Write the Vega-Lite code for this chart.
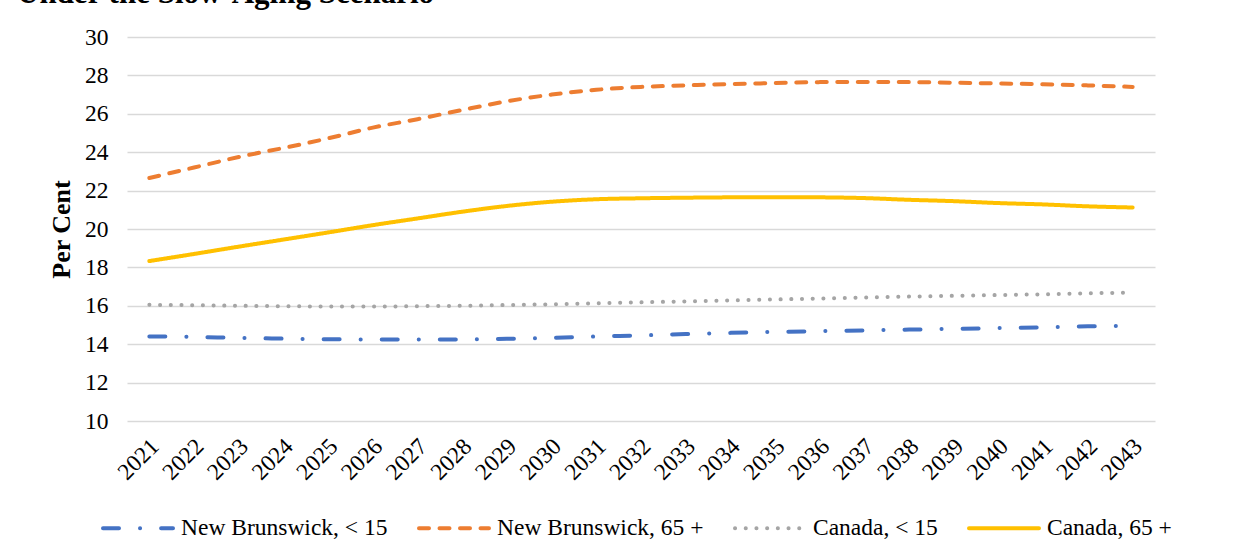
{
  "$schema": "https://vega.github.io/schema/vega-lite/v6.json",
  "width": 1028,
  "height": 384,
  "autosize": {"type": "none"},
  "padding": {"left": 127, "top": 37, "right": 102, "bottom": 138},
  "background": "white",
  "title": {
    "text": "Under the Slow-Aging Scenario",
    "anchor": "start",
    "frame": "group",
    "font": "Liberation Serif",
    "fontSize": 31,
    "fontWeight": "bold",
    "color": "#000000",
    "baseline": "alphabetic",
    "offset": -9,
    "dx": -110
  },
  "data": {
    "values": [
      {"year": "2021", "New Brunswick, < 15": 14.40, "New Brunswick, 65 +": 22.66, "Canada, < 15": 16.05, "Canada, 65 +": 18.33},
      {"year": "2022", "New Brunswick, < 15": 14.38, "New Brunswick, 65 +": 23.20, "Canada, < 15": 16.03, "Canada, 65 +": 18.70},
      {"year": "2023", "New Brunswick, < 15": 14.33, "New Brunswick, 65 +": 23.75, "Canada, < 15": 16.00, "Canada, 65 +": 19.08},
      {"year": "2024", "New Brunswick, < 15": 14.29, "New Brunswick, 65 +": 24.22, "Canada, < 15": 15.98, "Canada, 65 +": 19.45},
      {"year": "2025", "New Brunswick, < 15": 14.26, "New Brunswick, 65 +": 24.72, "Canada, < 15": 15.96, "Canada, 65 +": 19.82},
      {"year": "2026", "New Brunswick, < 15": 14.24, "New Brunswick, 65 +": 25.28, "Canada, < 15": 15.96, "Canada, 65 +": 20.20},
      {"year": "2027", "New Brunswick, < 15": 14.24, "New Brunswick, 65 +": 25.72, "Canada, < 15": 15.98, "Canada, 65 +": 20.55},
      {"year": "2028", "New Brunswick, < 15": 14.25, "New Brunswick, 65 +": 26.20, "Canada, < 15": 16.00, "Canada, 65 +": 20.90},
      {"year": "2029", "New Brunswick, < 15": 14.28, "New Brunswick, 65 +": 26.65, "Canada, < 15": 16.04, "Canada, 65 +": 21.20},
      {"year": "2030", "New Brunswick, < 15": 14.33, "New Brunswick, 65 +": 27.00, "Canada, < 15": 16.08, "Canada, 65 +": 21.42},
      {"year": "2031", "New Brunswick, < 15": 14.40, "New Brunswick, 65 +": 27.25, "Canada, < 15": 16.13, "Canada, 65 +": 21.55},
      {"year": "2032", "New Brunswick, < 15": 14.46, "New Brunswick, 65 +": 27.40, "Canada, < 15": 16.18, "Canada, 65 +": 21.60},
      {"year": "2033", "New Brunswick, < 15": 14.53, "New Brunswick, 65 +": 27.48, "Canada, < 15": 16.23, "Canada, 65 +": 21.63},
      {"year": "2034", "New Brunswick, < 15": 14.59, "New Brunswick, 65 +": 27.55, "Canada, < 15": 16.28, "Canada, 65 +": 21.65},
      {"year": "2035", "New Brunswick, < 15": 14.64, "New Brunswick, 65 +": 27.60, "Canada, < 15": 16.33, "Canada, 65 +": 21.66},
      {"year": "2036", "New Brunswick, < 15": 14.68, "New Brunswick, 65 +": 27.65, "Canada, < 15": 16.38, "Canada, 65 +": 21.65},
      {"year": "2037", "New Brunswick, < 15": 14.72, "New Brunswick, 65 +": 27.66, "Canada, < 15": 16.43, "Canada, 65 +": 21.61},
      {"year": "2038", "New Brunswick, < 15": 14.76, "New Brunswick, 65 +": 27.65, "Canada, < 15": 16.48, "Canada, 65 +": 21.52},
      {"year": "2039", "New Brunswick, < 15": 14.80, "New Brunswick, 65 +": 27.62, "Canada, < 15": 16.52, "Canada, 65 +": 21.45},
      {"year": "2040", "New Brunswick, < 15": 14.84, "New Brunswick, 65 +": 27.58, "Canada, < 15": 16.56, "Canada, 65 +": 21.35},
      {"year": "2041", "New Brunswick, < 15": 14.88, "New Brunswick, 65 +": 27.54, "Canada, < 15": 16.60, "Canada, 65 +": 21.28},
      {"year": "2042", "New Brunswick, < 15": 14.93, "New Brunswick, 65 +": 27.48, "Canada, < 15": 16.65, "Canada, 65 +": 21.18},
      {"year": "2043", "New Brunswick, < 15": 14.96, "New Brunswick, 65 +": 27.40, "Canada, < 15": 16.69, "Canada, 65 +": 21.12}
    ]
  },
  "transform": [
    {"fold": ["New Brunswick, < 15", "New Brunswick, 65 +", "Canada, < 15", "Canada, 65 +"], "as": ["series", "value"]}
  ],
  "mark": {"type": "line", "strokeWidth": 4, "strokeCap": "round", "strokeJoin": "round", "interpolate": "monotone"},
  "encoding": {
    "x": {
      "field": "year",
      "type": "ordinal",
      "scale": {"type": "point", "padding": 0.5},
      "axis": {
        "title": null,
        "labelAngle": -45,
        "labelAlign": "right",
        "labelBaseline": "top",
        "labelPadding": 13,
        "labelOffset": -3,
        "labelFont": "Liberation Serif",
        "labelFontSize": 23.5,
        "labelColor": "#000000",
        "domain": false,
        "ticks": false,
        "tickSize": 0,
        "grid": false
      }
    },
    "y": {
      "field": "value",
      "type": "quantitative",
      "scale": {"domain": [10, 30], "nice": false, "zero": false},
      "axis": {
        "title": "Per Cent",
        "titleFont": "Liberation Serif",
        "titleFontSize": 26,
        "titleFontWeight": "bold",
        "titleColor": "#000000",
        "titlePadding": 10,
        "values": [10, 12, 14, 16, 18, 20, 22, 24, 26, 28, 30],
        "labelFont": "Liberation Serif",
        "labelFontSize": 23.5,
        "labelColor": "#000000",
        "labelPadding": 19,
        "domain": false,
        "ticks": false,
        "tickSize": 0,
        "grid": true,
        "gridColor": "#D9D9D9",
        "gridWidth": 1.5
      }
    },
    "color": {
      "field": "series",
      "type": "nominal",
      "scale": {
        "domain": ["New Brunswick, < 15", "New Brunswick, 65 +", "Canada, < 15", "Canada, 65 +"],
        "range": ["#4472C4", "#ED7D31", "#A5A5A5", "#FFC000"]
      },
      "legend": {
        "title": null,
        "orient": "none",
        "legendX": -26,
        "legendY": 454,
        "direction": "horizontal",
        "columns": 4,
        "symbolType": "stroke",
        "symbolSize": 4900,
        "symbolStrokeWidth": 4,
        "labelFont": "Liberation Serif",
        "labelFontSize": 23.5,
        "labelColor": "#000000",
        "labelOffset": 6,
        "columnPadding": 23,
        "labelLimit": 400,
        "encode": {"symbols": {"update": {"strokeCap": {"value": "round"}}}}
      }
    },
    "strokeDash": {
      "field": "series",
      "type": "nominal",
      "scale": {
        "domain": ["New Brunswick, < 15", "New Brunswick, 65 +", "Canada, < 15", "Canada, 65 +"],
        "range": [[16, 21, 0.1, 21], [10, 10.5], [0.1, 10.6], [1, 0]]
      },
      "legend": null
    }
  },
  "config": {
    "font": "Liberation Serif",
    "view": {"stroke": null},
    "axis": {"labelFont": "Liberation Serif", "titleFont": "Liberation Serif"},
    "legend": {"labelFont": "Liberation Serif"}
  }
}
